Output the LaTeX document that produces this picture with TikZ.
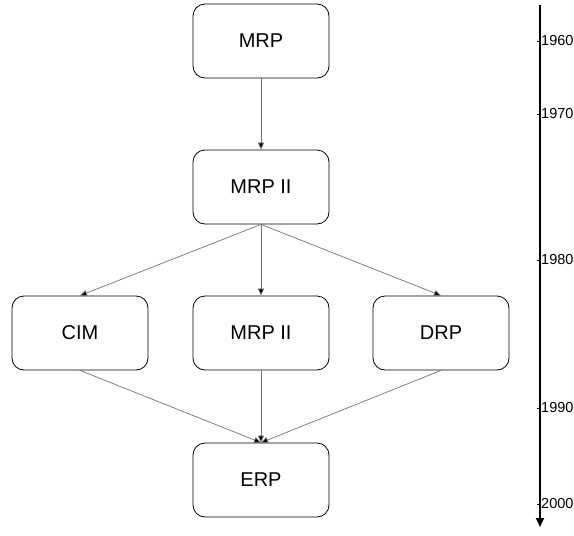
\documentclass[tikz,border=0pt]{standalone}
\usepackage{fontspec}
\setmainfont{Liberation Sans}
\usetikzlibrary{arrows.meta}
\begin{document}
\begin{tikzpicture}[x=1pt,y=-1pt,
  stage/.style={draw=black, line width=0.8pt, rounded corners=12pt,
    minimum width=136pt, minimum height=74pt, inner sep=0pt,
    font=\fontsize{20}{24}\selectfont},
  link/.style={draw=black!55, line width=0.7pt,
    -{Triangle[length=7pt,width=6pt,fill=black]}},
  year/.style={anchor=west, inner sep=0pt, font=\fontsize{14.5}{17}\selectfont}]
  \useasboundingbox (0,0) rectangle (574,536);

  % stages
  \node[stage] (mrp)   at (261,41)  {MRP};
  \node[stage] (mrp2)  at (261,187) {MRP II};
  \node[stage] (cim)   at (80,333)  {CIM};
  \node[stage] (mrp2b) at (261,333) {MRP II};
  \node[stage] (drp)   at (441,333) {DRP};
  \node[stage] (erp)   at (261,480) {ERP};

  % evolution links
  \draw[link] (mrp.south) -- (mrp2.north);
  \draw[link] (mrp2.south) -- (cim.north);
  \draw[link] (mrp2.south) -- (mrp2b.north);
  \draw[link] (mrp2.south) -- (drp.north);
  \draw[link] (cim.south) -- (erp.north);
  \draw[link] (mrp2b.south) -- (erp.north);
  \draw[link] (drp.south) -- (erp.north);

  % time axis
  \coordinate (tstart) at (540,5);
  \coordinate (tend) at (540,527);
  \draw[line width=2pt, -{Triangle[length=9pt,width=8pt]}] (tstart) -- (tend);
  \foreach \y/\lab in {41/1960, 114/1970, 260/1980, 408/1990, 504/2000}{
    \draw[line width=0.6pt] (537,\y) -- (540,\y);
    \node[year] (y\lab) at (541,\y) {\lab};
  }
\end{tikzpicture}
\end{document}
